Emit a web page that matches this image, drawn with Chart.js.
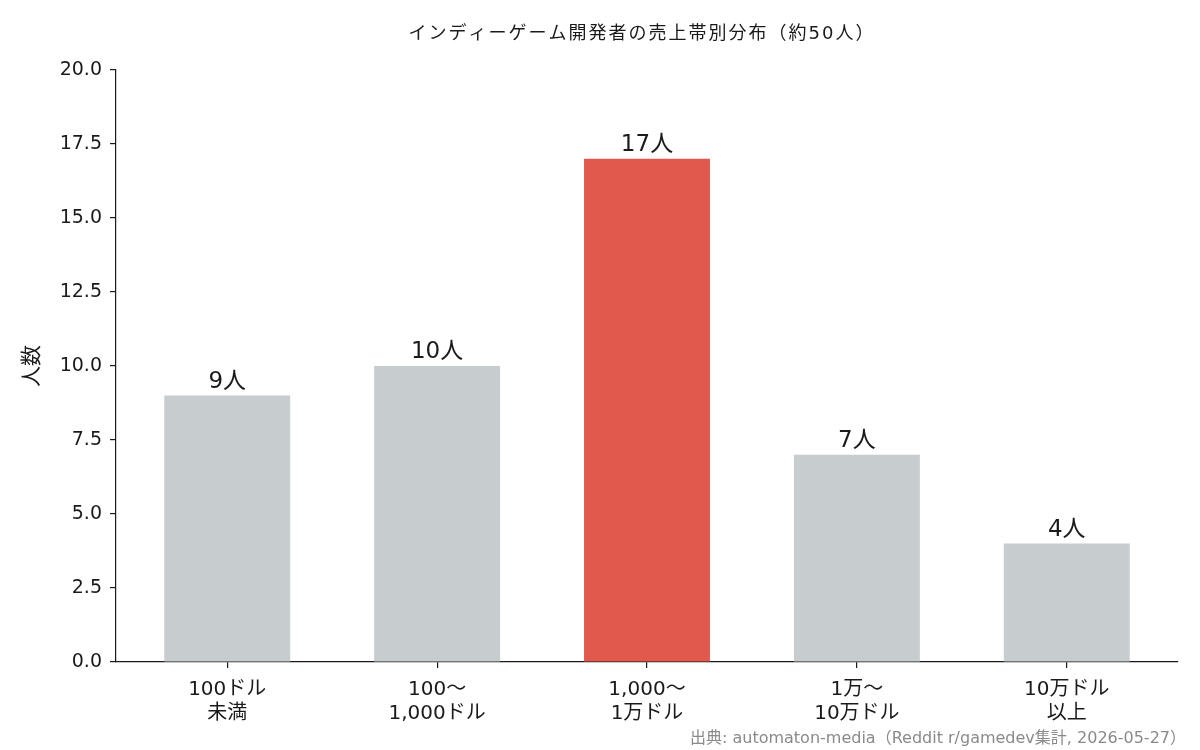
<!DOCTYPE html>
<html>
<head>
<meta charset="utf-8">
<script src="https://cdn.jsdelivr.net/npm/chart.js@4"></script>
<style>
  body { margin: 0; background: #fff; }
</style>
</head>
<body>
<canvas id="chart" width="1200" height="750"></canvas>
<script>
const categories = [['100ドル', '未満'], ['100〜', '1,000ドル'], ['1,000〜', '1万ドル'], ['1万〜', '10万ドル'], ['10万ドル', '以上']];
const counts = [9, 10, 17, 7, 4];
const barColors = ['#c7cccf', '#c7cccf', '#e0594c', '#c7cccf', '#c7cccf'];
const yTicks = [0, 2.5, 5, 7.5, 10, 12.5, 15, 17.5, 20];

const FONT = '"DejaVu Sans", "Noto Sans CJK JP", sans-serif';
const INK = '#1a1a1a';

// title, bar value labels and source line are drawn on top of the chart
const extraText = {
  id: 'extraText',
  afterDatasetsDraw(chart) {
    const ctx = chart.ctx;
    const meta = chart.getDatasetMeta(0);
    ctx.save();
    ctx.fillStyle = INK;
    ctx.textAlign = 'center';
    ctx.textBaseline = 'alphabetic';
    ctx.font = '23px ' + FONT;
    meta.data.forEach((bar, i) => {
      ctx.fillText(counts[i] + '人', bar.x, bar.y - 8);
    });

    ctx.font = '18px ' + FONT;
    ctx.letterSpacing = '2px';
    ctx.fillText('インディーゲーム開発者の売上帯別分布（約50人）', 642, 39);
    ctx.letterSpacing = '0px';

    ctx.fillStyle = '#8a8a8a';
    ctx.textAlign = 'right';
    ctx.font = '16px ' + FONT;
    ctx.fillText('出典: automaton-media（Reddit r/gamedev集計, 2026-05-27）', 1186, 743);
    ctx.restore();
  }
};

new Chart(document.getElementById('chart'), {
  type: 'bar',
  data: {
    datasets: [{
      data: counts.map((v, i) => ({ x: i, y: v })),
      backgroundColor: barColors,
      categoryPercentage: 1,
      barPercentage: 0.6
    }]
  },
  plugins: [extraText],
  options: {
    responsive: false,
    animation: false,
    layout: { padding: { top: 70, right: 22, left: 0, bottom: 0 } },
    plugins: {
      legend: { display: false },
      tooltip: { enabled: false }
    },
    scales: {
      x: {
        type: 'linear',
        min: -0.53,
        max: 4.53,
        offset: false,
        afterBuildTicks(scale) { scale.ticks = categories.map((c, i) => ({ value: i })); },
        grid: { offset: false, drawOnChartArea: false, drawTicks: true, tickLength: 6, color: INK, lineWidth: 1.2 },
        border: { color: INK, width: 1.2 },
        ticks: {
          color: INK,
          font: { family: FONT, size: 20, lineHeight: 1.2 },
          padding: 10,
          maxRotation: 0,
          callback: v => categories[v]
        },
        afterFit(scale) { scale.height = 88; }
      },
      y: {
        min: 0,
        max: 20,
        afterBuildTicks(scale) { scale.ticks = yTicks.map(v => ({ value: v })); },
        grid: { drawOnChartArea: false, drawTicks: true, tickLength: 6, color: INK, lineWidth: 1.2 },
        border: { color: INK, width: 1.2 },
        ticks: {
          color: INK,
          font: { family: FONT, size: 19 },
          padding: 8,
          callback: v => Number(v).toFixed(1)
        },
        title: {
          display: true,
          text: '人数',
          color: INK,
          font: { family: FONT, size: 21 },
          padding: { top: 20, bottom: 0 }
        },
        afterFit(scale) { scale.width = 116; }
      }
    }
  }
});
</script>
</body>
</html>
